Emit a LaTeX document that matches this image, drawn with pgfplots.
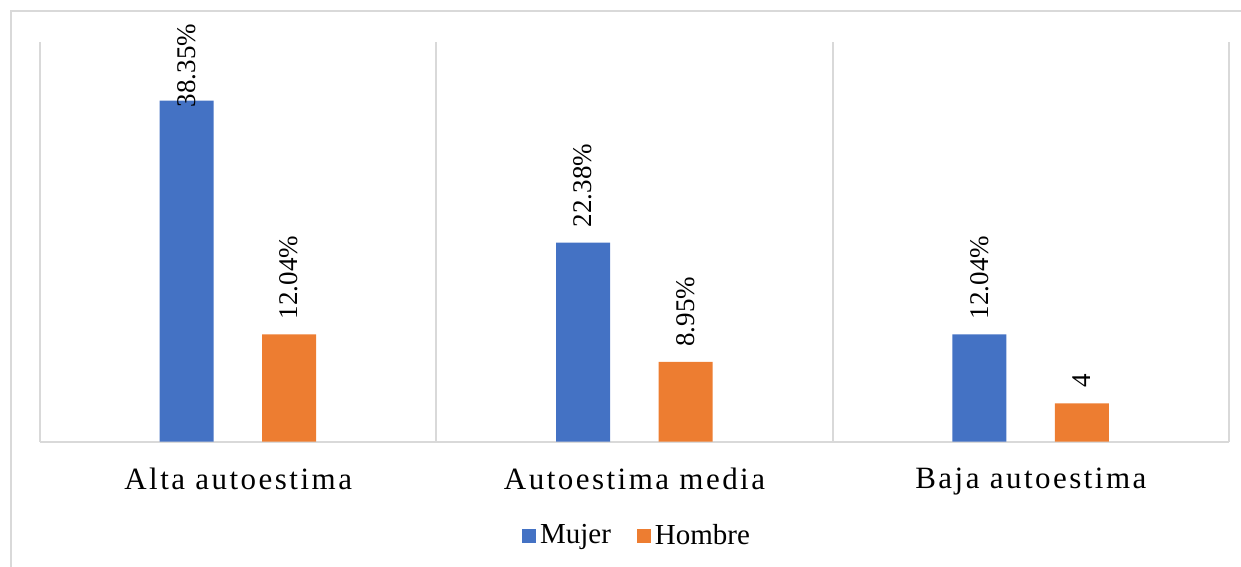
\documentclass[border=0pt]{standalone}
\usepackage{fontspec}
\setmainfont{Liberation Serif}
\newfontfamily\catfont[LetterSpace=8]{Liberation Serif}
\usepackage{pgfplots}
\usepackage{pgfplotstable}
\pgfplotsset{compat=1.18}
\definecolor{mblue}{RGB}{68,114,196}
\definecolor{morange}{RGB}{237,125,49}
\definecolor{gridgray}{RGB}{217,217,217}
\pgfplotstableread{
x y lbl off
0 38.35 38.35\% -3.5
1 22.38 22.38\% 7.5
2 12.04 12.04\% 7.5
}\mujer
\pgfplotstableread{
x y lbl off
0 12.04 12.04\% 7.5
1 8.95 8.95\% 7.5
2 4.3 4 7.5
}\hombre
\begin{document}
\begin{tikzpicture}
\useasboundingbox (-20bp,-62.75bp) rectangle (600.5bp,220.75bp);
\clip (-20bp,-62.75bp) rectangle (600.5bp,220.75bp);
\draw[gridgray, line width=0.9bp] (-14.5bp,-120bp) rectangle (700bp,215.25bp);
\begin{axis}[
  at={(0,0)}, anchor=south west,
  scale only axis, width=594.5bp, height=200bp,
  xmin=-0.5, xmax=2.5, ymin=0, ymax=45,
  ybar, bar width=27bp,
  clip=false,
  axis line style={draw=none},
  xtick={0,1,2},
  xticklabels={Alta autoestima, Autoestima media, Baja autoestima},
  major tick length=0pt, minor tick length=0pt,
  minor xtick={-0.5,0.5,1.5,2.5},
  xminorgrids,
  minor grid style={gridgray, line width=1bp},
  ytick=\empty,
  extra y ticks={0},
  extra y tick labels={},
  extra y tick style={ymajorgrids, major grid style={gridgray, line width=1bp}},
  xticklabel style={font=\catfont\fontsize{15.5bp}{18bp}\selectfont, anchor=north, inner sep=0pt, yshift=-13bp},
  point meta=explicit symbolic,
  nodes near coords,
  visualization depends on={\thisrow{off} \as \myoff},
  every node near coord/.append style={yshift=\myoff bp, rotate=90, anchor=west, inner sep=0pt, font=\fontsize{13.5bp}{16bp}\selectfont, text=black},
  legend columns=2,
  legend style={at={(0.503,-0.235)}, anchor=center, draw=none, fill=none,
    font=\fontsize{14.5bp}{17bp}\selectfont,
    /tikz/every even column/.append style={column sep=11bp}},
  legend image code/.code={\fill[#1] (-2bp,-3.5bp) rectangle (5bp,3.5bp);},
]
\addplot[fill=mblue, draw=none, bar shift=-25.75bp] table[x=x, y=y, meta=lbl] {\mujer};
\addlegendentry{Mujer}
\addplot[fill=morange, draw=none, bar shift=25.5bp] table[x=x, y=y, meta=lbl] {\hombre};
\addlegendentry{Hombre}
\end{axis}
\end{tikzpicture}
\end{document}
